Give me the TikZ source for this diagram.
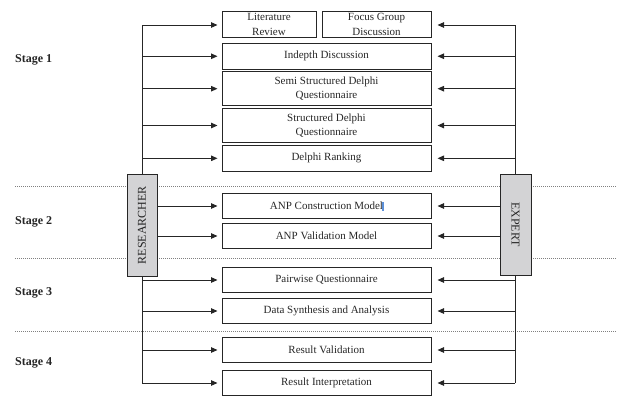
\documentclass[tikz,border=0pt]{standalone}
\usepackage{fontspec}
\setmainfont{Liberation Serif}
\usetikzlibrary{arrows.meta}
\definecolor{inkgray}{HTML}{262626}
\definecolor{boxgray}{HTML}{D3D3D5}
\definecolor{cursorblue}{HTML}{5B8FD8}
\begin{document}
\begin{tikzpicture}[x=1pt,y=-1pt,
  every node/.style={text=inkgray},
  stepbox/.style={draw=inkgray,line width=1pt,inner sep=0pt,align=center,
    font=\fontsize{11}{14.5}\selectfont,minimum height=25.5pt},
  onebox/.style={stepbox,minimum width=209pt},
  actor/.style={draw=inkgray,fill=boxgray,line width=1pt,inner sep=0pt},
  actortxt/.style={inner sep=0pt,font=\fontsize{12}{14}\selectfont},
  stagelbl/.style={anchor=west,inner sep=0pt,font=\fontsize{12}{14}\selectfont\bfseries},
  sep/.style={draw=gray,line width=0.6pt,dash pattern=on 1pt off 1pt},
  vline/.style={draw=inkgray,line width=1pt},
  arr/.style={draw=inkgray,line width=1pt,-{Triangle[length=6.5pt,width=5.5pt]}}
]
\useasboundingbox (0,0) rectangle (629,416);

% stage separators
\draw[sep] (15,186.5) -- (616,186.5);
\draw[sep] (15,258) -- (616,258);
\draw[sep] (15,331) -- (616,331);

% stage labels
\node[stagelbl] (s1) at (15,60) {Stage 1};
\node[stagelbl] (s2) at (15,222) {Stage 2};
\node[stagelbl] (s3) at (15,293) {Stage 3};
\node[stagelbl] (s4) at (15,363) {Stage 4};

% boxes
\node[stepbox,minimum width=94pt] (lit) at (269,24.5) {Literature\\Review};
\node[stepbox,minimum width=109pt] (focus) at (376.5,24.5) {Focus Group\\Discussion};
\node[onebox] (indepth) at (326.5,56.25) {Indepth Discussion};
\node[onebox,minimum height=34pt] (semi) at (326.5,88.7) {Semi Structured Delphi\\Questionnaire};
\node[onebox,minimum height=34pt] (struct) at (326.5,125.5) {Structured Delphi\\Questionnaire};
\node[onebox] (rank) at (326.5,158.3) {Delphi Ranking};
\node[onebox] (anpc) at (326.5,206) {ANP Construction Model};
\node[onebox] (anpv) at (326.5,236) {ANP Validation Model};
\node[onebox] (pair) at (326.5,280) {Pairwise Questionnaire};
\node[onebox] (data) at (326.5,311) {Data Synthesis and Analysis};
\node[onebox] (rval) at (326.5,350) {Result Validation};
\node[onebox] (rint) at (326.5,383) {Result Interpretation};

% text cursor mark
\fill[cursorblue] (382,201.5) rectangle (384,210.5);

% vertical spines
\coordinate (Ltop) at (142,25);
\coordinate (Lbot) at (142,383);
\coordinate (Rtop) at (515,25);
\coordinate (Rbot) at (515,383);
\draw[vline] (Ltop) -- (Lbot);
\draw[vline] (Rtop) -- (Rbot);

% actors
\node[actor,minimum width=30pt,minimum height=102pt] (res) at (142,225) {};
\node[actortxt,rotate=90] (restxt) at (res.center) {RESEARCHER};
\node[actor,minimum width=31pt,minimum height=101pt] (exp) at (515.5,224.5) {};
\node[actortxt,rotate=-90] (exptxt) at (exp.center) {EXPERT};

% arrows
\foreach \b/\y in {lit/25,indepth/56.25,semi/88.7,struct/125.5,rank/158.3,anpc/206,anpv/236,pair/280,data/311,rval/350,rint/383}{
  \coordinate (L-\b) at (142,\y);
}
\foreach \b/\y in {focus/25,indepth/56.25,semi/88.7,struct/125.5,rank/158.3,anpc/206,anpv/236,pair/280,data/311,rval/350,rint/383}{
  \coordinate (R-\b) at (515,\y);
}
\foreach \b in {lit,indepth,semi,struct,rank,pair,data,rval,rint}{
  \draw[arr] (L-\b) -- ([xshift=-4pt]L-\b -| \b.west);
}
\foreach \b in {anpc,anpv}{
  \draw[arr] (L-\b -| res.east) -- ([xshift=-4pt]L-\b -| \b.west);
}
\foreach \b in {focus,indepth,semi,struct,rank,pair,data,rval,rint}{
  \draw[arr] (R-\b) -- ([xshift=6pt]R-\b -| \b.east);
}
\foreach \b in {anpc,anpv}{
  \draw[arr] (R-\b -| exp.west) -- ([xshift=6pt]R-\b -| \b.east);
}
\end{tikzpicture}
\end{document}
